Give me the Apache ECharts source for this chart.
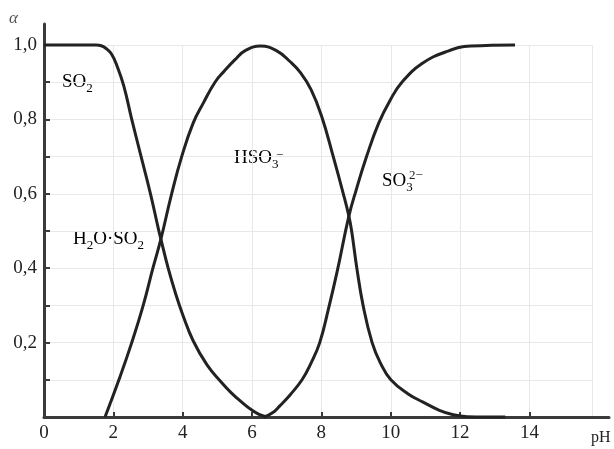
<!DOCTYPE html>
<html>
<head>
<meta charset="utf-8">
<script src="https://cdn.jsdelivr.net/npm/echarts@6/dist/echarts.min.js"></script>
<style>
  html, body { margin: 0; padding: 0; background: #fff; }
  #chart { width: 614px; height: 449px; }
</style>
</head>
<body>
<div id="chart"></div>
<script>
// Distribution of sulfur(IV) species (fraction α) versus pH

// tick values
const pHTicks = [0, 2, 4, 6, 8, 10, 12, 14];
const alphaTicks = [0.2, 0.4, 0.6, 0.8, 1.0];

// [pH, α] for each species
const so2Curve = [
  [0, 1], [1.5, 1], [1.65, 0.998], [1.8, 0.99], [1.95, 0.975], [2.1, 0.945],
  [2.3, 0.89], [2.53, 0.8], [2.8, 0.7], [3.07, 0.6], [3.3, 0.505], [3.37, 0.478],
  [3.58, 0.4], [3.8, 0.33], [4.0, 0.275], [4.3, 0.205], [4.7, 0.14], [5.1, 0.095],
  [5.4, 0.065], [5.7, 0.04], [6.0, 0.018], [6.2, 0.007], [6.42, 0.0]
];
const hso3Curve = [
  [1.76, 0], [2.16, 0.1], [2.53, 0.2], [2.86, 0.3], [3.14, 0.4], [3.37, 0.478],
  [3.68, 0.6], [3.97, 0.7], [4.3, 0.79], [4.6, 0.845], [4.93, 0.9], [5.2, 0.93],
  [5.5, 0.96], [5.8, 0.985], [6.25, 0.997], [6.7, 0.985], [7.1, 0.955], [7.4, 0.925],
  [7.7, 0.88], [8.0, 0.81], [8.34, 0.7], [8.63, 0.6], [8.79, 0.54], [8.87, 0.5],
  [9.02, 0.4], [9.2, 0.3], [9.46, 0.2], [9.7, 0.145], [10.0, 0.1], [10.5, 0.062],
  [10.93, 0.04], [11.4, 0.018], [11.8, 0.006], [12.2, 0.001], [13.3, 0]
];
const so3Curve = [
  [6.35, 0], [6.6, 0.012], [6.8, 0.03], [7.1, 0.06], [7.44, 0.1], [7.7, 0.145],
  [7.95, 0.2], [8.2, 0.29], [8.45, 0.39], [8.79, 0.54], [9.0, 0.61], [9.3, 0.7],
  [9.65, 0.79], [10.0, 0.855], [10.32, 0.9], [10.9, 0.95], [11.6, 0.982],
  [12.3, 0.997], [13.58, 1]
];

const serif = '"Liberation Serif", "DejaVu Serif", serif';
const ink = '#222';
const axisInk = '#3a3a3a';
const gridInk = '#e8e8e8';

const chart = echarts.init(document.getElementById('chart'), null, { renderer: 'canvas' });

const curveStyle = {
  type: 'line',
  xAxisIndex: 0,
  yAxisIndex: 0,
  showSymbol: false,
  symbol: 'none',
  smooth: 0.45,
  clip: false,
  lineStyle: { color: ink, width: 3 },
  z: 5
};

const sub = { fontFamily: serif, fontSize: 13, lineHeight: 13, verticalAlign: 'bottom', color: ink };
const main = { fontFamily: serif, fontSize: 19, lineHeight: 25, color: ink };

chart.setOption({
  animation: false,
  backgroundColor: '#fff',
  grid: [
    { left: 44, right: 22, top: 45, bottom: 32 },   // plot area with grid lines
    { left: 44, right: 84.6, top: 45, bottom: 32 }, // ticks and labels
    { left: 44, right: 5, top: 24, bottom: 32 }     // axis lines
  ],
  xAxis: [
    {
      gridIndex: 0, type: 'value', min: 0, max: 15.8, interval: 2,
      axisLine: { show: false }, axisTick: { show: false }, axisLabel: { show: false },
      splitLine: { show: true, lineStyle: { color: gridInk, width: 1 } }
    },
    {
      gridIndex: 1, type: 'value', min: pHTicks[0], max: pHTicks[pHTicks.length - 1], interval: 2,
      axisLine: { show: false },
      axisTick: { show: true, inside: true, length: 5, lineStyle: { color: axisInk, width: 2 } },
      axisLabel: {
        show: true, margin: 7, color: ink, fontFamily: serif, fontSize: 19,
        formatter: v => pHTicks.includes(v) ? String(v) : ''
      },
      splitLine: { show: false }
    },
    {
      gridIndex: 2, type: 'value', min: 0, max: 1,
      axisLine: { show: true, lineStyle: { color: axisInk, width: 3 } },
      axisTick: { show: false }, axisLabel: { show: false }, splitLine: { show: false }
    }
  ],
  yAxis: [
    {
      gridIndex: 0, type: 'value', min: 0, max: 1, interval: 0.1,
      axisLine: { show: false }, axisTick: { show: false }, axisLabel: { show: false },
      splitLine: { show: true, lineStyle: { color: gridInk, width: 1 } }
    },
    {
      gridIndex: 1, type: 'value', min: 0, max: 1, interval: 0.1,
      axisLine: { show: false },
      axisTick: { show: true, inside: true, length: 6, lineStyle: { color: axisInk, width: 2 } },
      axisLabel: {
        show: true, margin: 7, color: ink, fontFamily: serif, fontSize: 19,
        formatter: v => {
          const t = alphaTicks.find(a => Math.abs(a - v) < 1e-6);
          return t === undefined ? '' : t.toFixed(1).replace('.', ',');
        }
      },
      splitLine: { show: false }
    },
    {
      gridIndex: 2, type: 'value', min: 0, max: 1,
      axisLine: { show: true, lineStyle: { color: axisInk, width: 3 } },
      axisTick: { show: false }, axisLabel: { show: false }, splitLine: { show: false }
    }
  ],
  series: [
    Object.assign({ name: 'SO2', data: so2Curve }, curveStyle),
    Object.assign({ name: 'HSO3-', data: hso3Curve }, curveStyle),
    Object.assign({ name: 'SO3 2-', data: so3Curve }, curveStyle)
  ],
  graphic: [
    { type: 'text', left: 9, top: 10, style: { text: 'α', fontFamily: serif, fontSize: 17, fontStyle: 'italic', fill: '#555' } },
    { type: 'text', left: 591, top: 430, style: { text: 'pH', fontFamily: serif, fontSize: 16, fill: ink } },
    { type: 'text', left: 62, top: 73, style: { text: '{m|SO}{s|2}', rich: { m: main, s: sub } } },
    { type: 'text', left: 73, top: 230, style: { text: '{m|H}{s|2}{m|O·SO}{s|2}', rich: { m: main, s: sub } } },
    { type: 'text', left: 234, top: 149, style: { text: '{m|HSO}{s|3}', rich: { m: main, s: sub } } },
    { type: 'text', left: 276, top: 149, style: { text: '−', fontFamily: serif, fontSize: 13, fill: ink } },
    { type: 'text', left: 382, top: 172, style: { text: '{m|SO}{s|3}', rich: { m: main, s: sub } } },
    { type: 'text', left: 409, top: 169, style: { text: '2−', fontFamily: serif, fontSize: 13, fill: ink } }
  ]
});
</script>
</body>
</html>
